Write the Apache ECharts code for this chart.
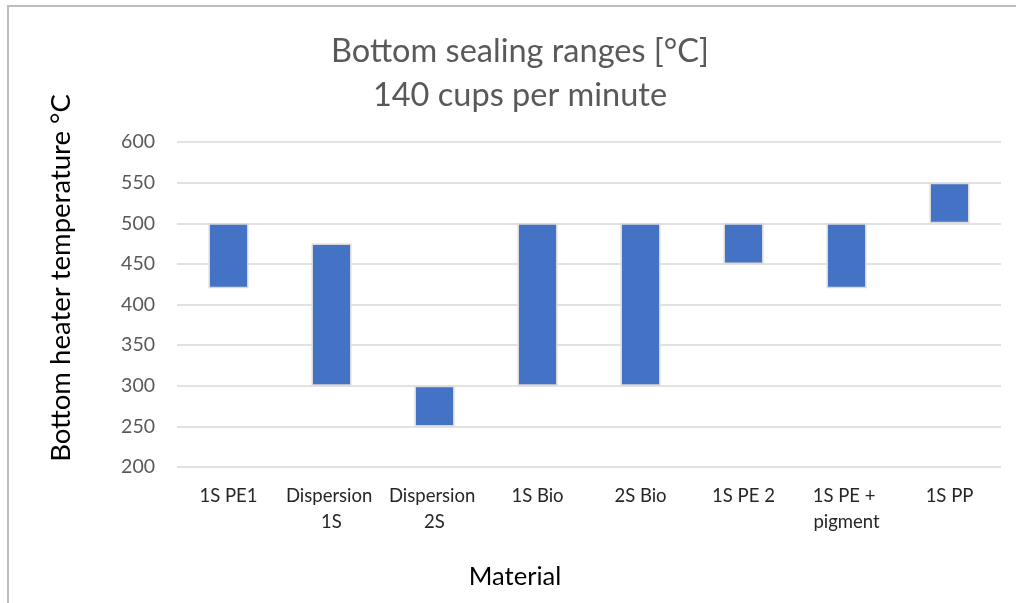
<!DOCTYPE html>
<html>
<head>
<meta charset="utf-8">
<script src="https://cdn.jsdelivr.net/npm/echarts@6/dist/echarts.min.js"></script>
<style>
  html, body { margin: 0; padding: 0; background: #fff; }
  #chart { width: 1016px; height: 603px; }
</style>
</head>
<body>
<div id="chart"></div>
<script>
const categories = ['1S PE1', 'Dispersion 1S', 'Dispersion 2S', '1S Bio', '2S Bio', '1S PE 2', '1S PE + pigment', '1S PP'];
const lowValues  = [420, 300, 250, 300, 300, 450, 420, 500];
const highValues = [500, 475, 300, 500, 500, 500, 500, 550];
const yTicks = { min: 200, max: 600, interval: 50 };

const rangeValues = highValues.map((h, i) => h - lowValues[i]);
const FONT = 'Lato, "Liberation Sans", sans-serif';

const chart = echarts.init(document.getElementById('chart'), null, { renderer: 'canvas' });
chart.setOption({
  animation: false,
  backgroundColor: '#ffffff',
  title: {
    text: 'Bottom sealing ranges [°C]\n140 cups per minute',
    left: 515,
    top: 25,
    textAlign: 'center',
    textStyle: { fontFamily: FONT, fontSize: 32.5, fontWeight: 'normal', color: '#595959', lineHeight: 44 }
  },
  grid: { left: 177, right: 15, top: 142, bottom: 136 },
  xAxis: {
    type: 'category',
    data: categories,
    axisLine: { show: false },
    axisTick: { show: false },
    axisLabel: {
      interval: 0, margin: 16, fontFamily: FONT, fontSize: 18.5, lineHeight: 26, color: '#262626',
      width: 100, overflow: 'break'
    }
  },
  yAxis: {
    type: 'value',
    min: yTicks.min, max: yTicks.max, interval: yTicks.interval,
    axisLine: { show: false },
    axisTick: { show: false },
    axisLabel: { margin: 22, fontFamily: FONT, fontSize: 19.5, color: '#595959' },
    splitLine: { lineStyle: { color: '#d9d9d9', width: 1.5 } }
  },
  series: [
    {
      name: 'base', type: 'bar', stack: 'range', data: lowValues,
      itemStyle: { color: 'transparent' }, barWidth: 40, silent: true
    },
    {
      name: 'range', type: 'bar', stack: 'range', data: rangeValues,
      itemStyle: { color: '#4472C4', borderColor: '#d9d9d9', borderWidth: 1.5 }, barWidth: 40
    }
  ],
  graphic: [
    { type: 'rect', shape: { x: 8, y: 6, width: 1200, height: 800 }, style: { fill: 'none', stroke: '#bdbdbd', lineWidth: 2 }, z: 100 },
    { type: 'text', x: 61, y: 278, rotation: Math.PI / 2,
      style: { text: 'Bottom heater temperature °C', fontFamily: FONT, fontSize: 27.5, fill: '#000', align: 'center', verticalAlign: 'middle' } },
    { type: 'text', x: 515, y: 577,
      style: { text: 'Material', fontFamily: FONT, fontSize: 25.5, fill: '#000', align: 'center', verticalAlign: 'middle' } }
  ]
});
</script>
</body>
</html>
